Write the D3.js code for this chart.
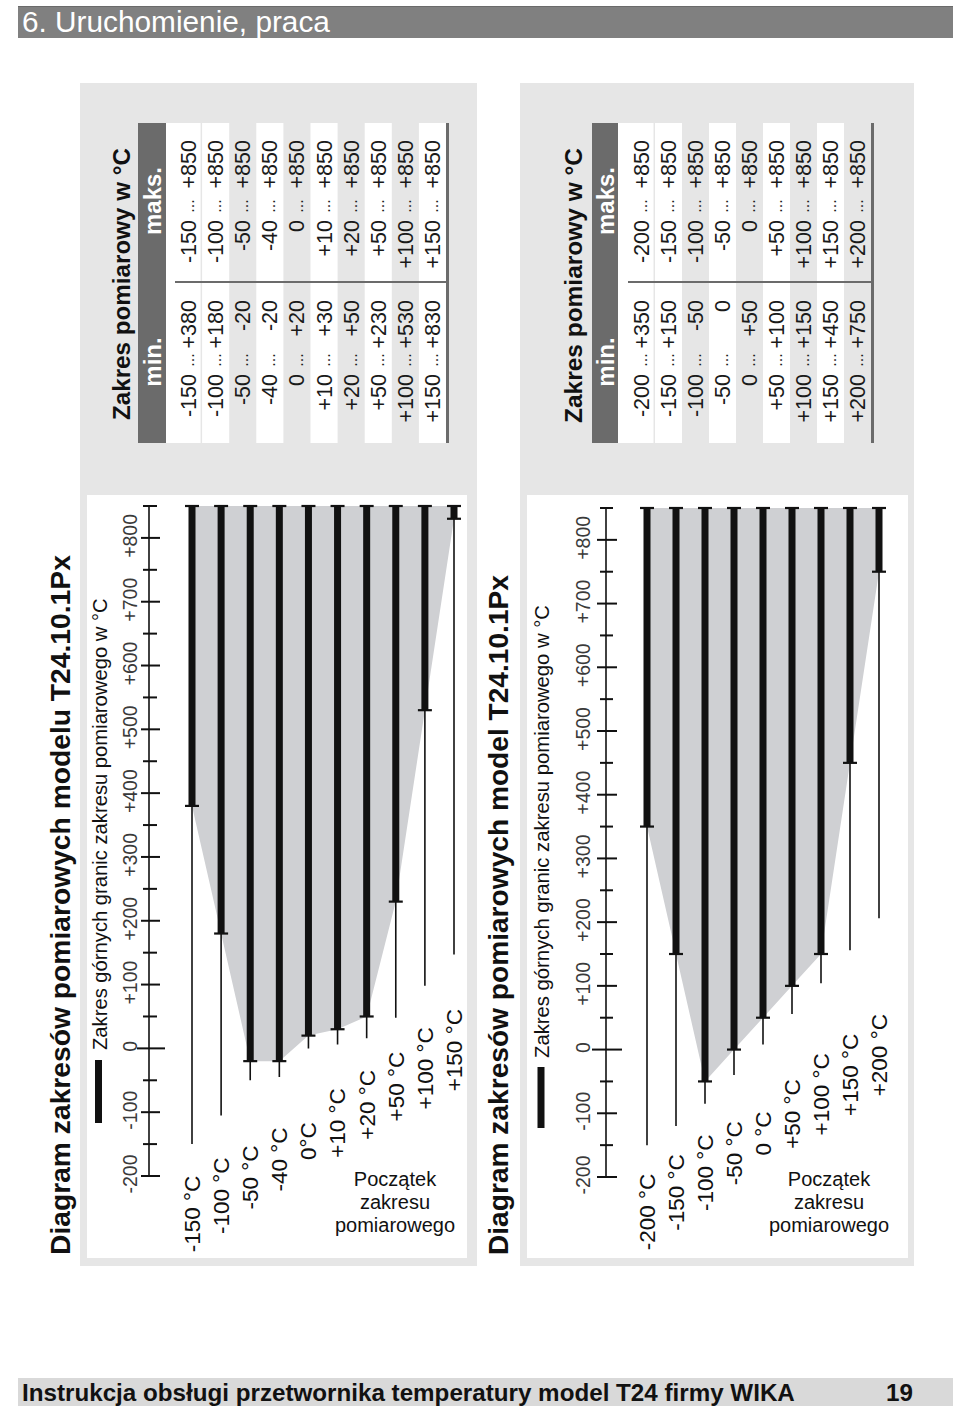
<!DOCTYPE html>
<html><head><meta charset="utf-8">
<script src="https://cdn.jsdelivr.net/npm/d3@7"></script>
<style>
body{margin:0;background:#fff}
svg{display:block}
text{font-family:"Liberation Sans",Arial,Helvetica,sans-serif}
</style>
</head><body>
<svg id="c" width="960" height="1409"></svg>
<script>
// ---------------- DATA ----------------
// Chart A: model T24.10.1Px (first diagram)
const catsA      = [-150, -100, -50, -40, 0, 10, 20, 50, 100, 150];
const labelsA    = ["-150 °C","-100 °C","-50 °C","-40 °C","0°C","+10 °C","+20 °C","+50 °C","+100 °C","+150 °C"];
const lineFromA  = [-150, -105, -50, -45, 0, 6, 16, 48, 98, 147];
const minUpperA  = [380, 180, -20, -20, 20, 30, 50, 230, 530, 830];
const maxUpperA  = [850, 850, 850, 850, 850, 850, 850, 850, 850, 850];

// Chart B: model T24.10.1Px (second diagram)
const catsB      = [-200, -150, -100, -50, 0, 50, 100, 150, 200];
const labelsB    = ["-200 °C","-150 °C","-100 °C","-50 °C","0 °C","+50 °C","+100 °C","+150 °C","+200 °C"];
const lineFromB  = [-150, -120, -85, -40, 8, 56, 104, 156, 206];
const minUpperB  = [350, 150, -50, 0, 50, 100, 150, 450, 750];
const maxUpperB  = [850, 850, 850, 850, 850, 850, 850, 850, 850];

// Axis
const tickValues      = [-200,-150,-100,-50,0,50,100,150,200,250,300,350,400,450,500,550,600,650,700,750,800,850];
const tickLabelValues = [-200,-100,0,100,200,300,400,500,600,700,800];
const tickLabels      = ["-200","-100","0","+100","+200","+300","+400","+500","+600","+700","+800"];

// Texts
const headerText  = "6. Uruchomienie, praca";
const footerText  = "Instrukcja obsługi przetwornika temperatury model T24 firmy WIKA";
const pageNumber  = "19";
const titleA      = "Diagram zakresów pomiarowych modelu T24.10.1Px";
const titleB      = "Diagram zakresów pomiarowych model T24.10.1Px";
const tableTitle  = "Zakres pomiarowy w °C";
const colHeads    = ["min.", "maks."];
const legendText  = "Zakres górnych granic zakresu pomiarowego w °C";
const noteLines   = ["Początek", "zakresu", "pomiarowego"];

// ---------------- HELPERS ----------------
const svg = d3.select("#c");
const fmt = v => v > 0 ? "+" + v : String(v);
function fit(sel, target) {
  const w = sel.node().getComputedTextLength();
  const fs = parseFloat(sel.attr("font-size"));
  sel.attr("font-size", (fs * target / w).toFixed(2));
  return sel;
}
function vtext(g, x, y, str, opts) {
  const t = g.append("text")
    .attr("transform", `translate(${x},${y}) rotate(-90)`)
    .attr("dy", "0.35em")
    .attr("font-size", opts.size || 16)
    .attr("font-weight", opts.weight || "normal")
    .attr("fill", opts.fill || "#111")
    .attr("text-anchor", opts.anchor || "start")
    .text(str);
  if (opts.len) fit(t, opts.len);
  return t;
}

// ---------------- PAGE HEADER / FOOTER ----------------
svg.append("rect").attr("x", 18).attr("y", 6).attr("width", 935).attr("height", 32).attr("fill", "#808080");
svg.append("line").attr("x1", 18).attr("x2", 953).attr("y1", 6.5).attr("y2", 6.5).attr("stroke", "#6a6a6a").attr("stroke-width", 1);
fit(svg.append("text").attr("x", 22).attr("y", 32).attr("font-size", 28).attr("fill", "#fff").text(headerText), 308);

svg.append("rect").attr("x", 18).attr("y", 1378).attr("width", 935).attr("height", 28).attr("fill", "#d9d9d9");
const ft = fit(svg.append("text").attr("x", 22).attr("y", 1401).attr("font-size", 23).attr("font-weight", "bold").attr("fill", "#111").text(footerText), 773);
svg.append("text").attr("x", 913).attr("y", 1401).attr("text-anchor", "end").attr("font-size", ft.attr("font-size")).attr("font-weight", "bold").attr("fill", "#111").text(pageNumber);

// ---------------- PANELS ----------------
function drawPanel(cfg, cats, labels, lineFrom, minUpper, maxUpper) {
  const g = svg.append("g");
  // light gray panel
  g.append("rect").attr("x", cfg.px0).attr("y", 83).attr("width", cfg.px1 - cfg.px0).attr("height", 1183).attr("fill", "#e6e6e6");
  // title
  vtext(g, cfg.titleX, 1255, cfg.title, {size: 26, weight: "bold", len: cfg.titleLen});

  // ---- table ----
  vtext(g, cfg.tTitleX, cfg.tTitleStart, tableTitle, {size: 22, weight: "bold", len: cfg.tTitleLen});
  g.append("rect").attr("x", cfg.hb0).attr("y", 123).attr("width", cfg.hb1 - cfg.hb0).attr("height", 320).attr("fill", "#6b6b6b");
  vtext(g, (cfg.hb0 + cfg.hb1) / 2 + 1, 362, colHeads[0], {size: 24, weight: "bold", fill: "#fff", anchor: "middle"});
  vtext(g, (cfg.hb0 + cfg.hb1) / 2 + 1, 201, colHeads[1], {size: 24, weight: "bold", fill: "#fff", anchor: "middle"});

  const n = cats.length;
  const rowX = i => cfg.r0 + i * cfg.rh;
  // white gap + first row
  g.append("rect").attr("x", cfg.hb1).attr("y", 123).attr("width", rowX(1) - 1.5 - cfg.hb1).attr("height", 320).attr("fill", "#fff");
  cats.forEach((c, i) => {
    if (i > 0 && i % 2 === 1) {
      g.append("rect").attr("x", rowX(i)).attr("y", 123).attr("width", cfg.rh).attr("height", 320).attr("fill", "#fff");
    }
  });
  const tEnd = rowX(n);
  g.append("line").attr("x1", tEnd + 1.5).attr("x2", tEnd + 1.5).attr("y1", 123).attr("y2", 443).attr("stroke", "#6b6b6b").attr("stroke-width", 3);
  g.append("line").attr("x1", cfg.r0).attr("x2", tEnd).attr("y1", 282).attr("y2", 282).attr("stroke", "#6b6b6b").attr("stroke-width", 2);

  cats.forEach((c, i) => {
    const cx = rowX(i) + cfg.rh / 2;
    const opt = {size: 21.5, fill: "#1a1a1a"};
    const dot = {size: 16, fill: "#1a1a1a", anchor: "middle"};
    // min column
    vtext(g, cx, 374, fmt(c), Object.assign({anchor: "end"}, opt));
    vtext(g, cx, 360, "...", dot);
    vtext(g, cx, 300, fmt(minUpper[i]), Object.assign({anchor: "end"}, opt));
    // maks column
    vtext(g, cx, 220, fmt(c), Object.assign({anchor: "end"}, opt));
    vtext(g, cx, 206, "...", dot);
    vtext(g, cx, 140, fmt(maxUpper[i]), Object.assign({anchor: "end"}, opt));
  });

  // ---- chart ----
  g.append("rect").attr("x", cfg.cb0).attr("y", 495).attr("width", cfg.cb1 - cfg.cb0).attr("height", 763).attr("fill", "#fff");
  const y = d3.scaleLinear().domain([-200, 850]).range(cfg.yRange);
  const x = d3.scalePoint().domain(cats).range(cfg.xRange);

  // gray area joining lower ends of the upper-limit ranges
  const pts = cats.map((c, i) => [x(c), y(minUpper[i])]);
  pts.push([x(cats[n - 1]), y(maxUpper[n - 1])]);
  pts.push([x(cats[0]), y(maxUpper[0])]);
  g.append("path").attr("d", d3.line()(pts) + "Z").attr("fill", "#cfd0d3");

  // axis
  const ax = cfg.axisX;
  g.append("line").attr("x1", ax).attr("x2", ax).attr("y1", y(-200)).attr("y2", y(850)).attr("stroke", "#111").attr("stroke-width", 1.6);
  tickValues.forEach(v => {
    let l = cfg.tMin[0], r = cfg.tMin[1];
    if (v === 0) { l = cfg.tZero[0]; r = cfg.tZero[1]; }
    else if (v % 100 === 0) { l = cfg.tMaj[0]; r = cfg.tMaj[1]; }
    g.append("line").attr("x1", ax - l).attr("x2", ax + r).attr("y1", y(v)).attr("y2", y(v)).attr("stroke", "#111").attr("stroke-width", 2);
  });
  tickLabelValues.forEach((v, i) => {
    vtext(g, cfg.tickLabelX, y(v) - 2, tickLabels[i], {size: 19.5, fill: "#3a3a3a", anchor: "middle"});
  });

  // thin lines
  cats.forEach((c, i) => {
    g.append("line").attr("x1", x(c)).attr("x2", x(c)).attr("y1", y(lineFrom[i])).attr("y2", y(maxUpper[i])).attr("stroke", "#111").attr("stroke-width", 1.6);
  });
  // thick bars + caps
  cats.forEach((c, i) => {
    g.append("rect").attr("x", x(c) - 3.5).attr("width", 7)
      .attr("y", y(maxUpper[i])).attr("height", y(minUpper[i]) - y(maxUpper[i])).attr("fill", "#111");
    [minUpper[i], maxUpper[i]].forEach(v => {
      g.append("line").attr("x1", x(c) - 7).attr("x2", x(c) + 7).attr("y1", y(v)).attr("y2", y(v)).attr("stroke", "#111").attr("stroke-width", 2.2);
    });
  });
  // category labels
  cats.forEach((c, i) => {
    vtext(g, x(c), cfg.lab0 + cfg.labStep * i, labels[i], {size: 22.5, fill: "#111", anchor: "middle"});
  });

  // legend
  g.append("rect").attr("x", cfg.legX - 3.5).attr("width", 7).attr("y", cfg.legBar[0]).attr("height", cfg.legBar[1] - cfg.legBar[0]).attr("fill", "#111");
  vtext(g, cfg.legX + 1, cfg.legTextStart, legendText, {size: 19, fill: "#111", len: cfg.legLen});

  // note
  noteLines.forEach((s, i) => {
    g.append("text").attr("x", cfg.noteX).attr("y", 1186 + i * 23).attr("text-anchor", "middle")
      .attr("font-size", 20).attr("fill", "#111").text(s);
  });
}

drawPanel({
  px0: 80, px1: 477, title: titleA, titleX: 60, titleLen: 700,
  tTitleX: 122, tTitleStart: 420, tTitleLen: 272,
  hb0: 138, hb1: 166, r0: 175, rh: 27.1,
  cb0: 87, cb1: 467, yRange: [1176, 506], xRange: [192, 454],
  axisX: 149, tMaj: [8, 11], tMin: [6, 8], tZero: [12, 16], tickLabelX: 130,
  lab0: 1214, labStep: -18.2,
  legX: 98.5, legBar: [1060, 1123], legTextStart: 1050, legLen: 452,
  noteX: 395
}, catsA, labelsA, lineFromA, minUpperA, maxUpperA);

drawPanel({
  px0: 520, px1: 914, title: titleB, titleX: 498, titleLen: 680,
  tTitleX: 573, tTitleStart: 423, tTitleLen: 275,
  hb0: 592, hb1: 618, r0: 628, rh: 27.0,
  cb0: 527, cb1: 908, yRange: [1177, 508], xRange: [647, 879],
  axisX: 606, tMaj: [9, 11], tMin: [6, 7], tZero: [14, 16], tickLabelX: 583,
  lab0: 1212, labStep: -19.6,
  legX: 541, legBar: [1067, 1128], legTextStart: 1058, legLen: 453,
  noteX: 829
}, catsB, labelsB, lineFromB, minUpperB, maxUpperB);
</script>
</body></html>
